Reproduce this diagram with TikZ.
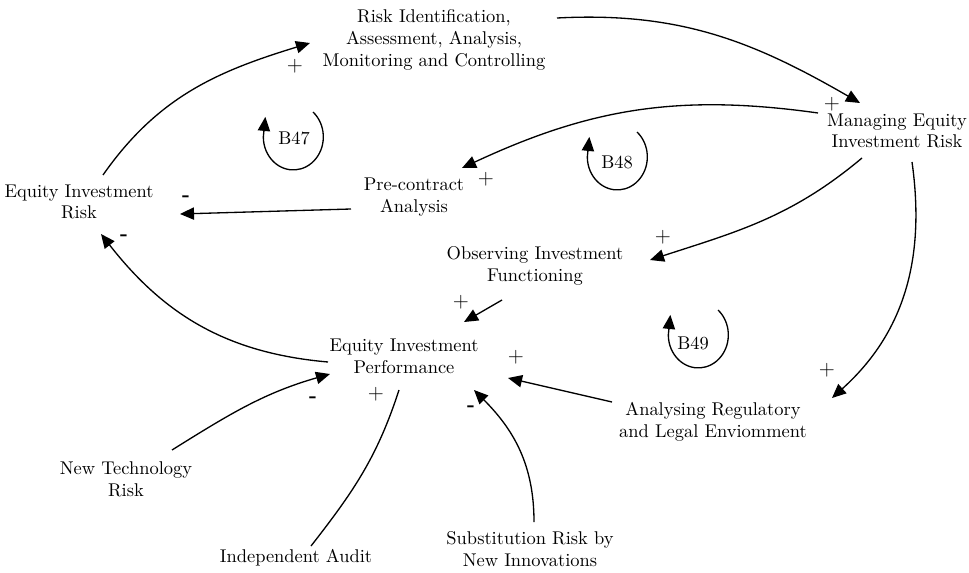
\documentclass[tikz,border=0pt]{standalone}
\usetikzlibrary{arrows.meta,calc}

\begin{document}
\begin{tikzpicture}[x=0.02cm,y=0.02cm]
        \tikzstyle{var}=[align=center, inner sep=0pt, font=\fontsize{10.5}{12.4}\selectfont]
        \tikzstyle{link}=[line width=0.75pt, -{Triangle[length=8pt,width=7pt]}]
        \tikzstyle{plain}=[line width=0.75pt]
        \tikzstyle{sign}=[inner sep=0pt, font=\large]
        \useasboundingbox (0,0) rectangle (969,572);
        % variables
        \node [var] (riskid) at (434,532) {Risk Identification,\\Assessment, Analysis,\\Monitoring and Controlling};
        \node [var] (manage) at (897,441) {Managing Equity\\Investment Risk};
        \node [var] (eqrisk) at (79,370) {Equity Investment\\Risk};
        \node [var] (precon) at (414,375) {Pre-contract\\Analysis};
        \node [var] (observe) at (535,306) {Observing Investment\\Functioning};
        \node [var] (perf) at (404,216) {Equity Investment\\Performance};
        \node [var] (analyse) at (713,150) {Analysing Regulatory\\and Legal Enviomment};
        \node [var] (newtech) at (126,93) {New Technology\\Risk};
        \node [var] (audit) at (296,14) {Independent Audit};
        \node [var] (subst) at (530,23) {Substitution Risk by\\New Innovations};
        % loops
        \foreach \nm/\lbl/\x/\y/\dx/\dy in {b47/B47/294/434/19/26, b48/B48/617/410/20/30, b49/B49/693/229/25/33}
        {
          \node [var] (\nm) at (\x,\y) {\lbl};
          \draw [link] ($(\nm)+(\dx,\dy)$) arc [start angle=49, end angle=-180, x radius=30, y radius=33] -- ++(2,20);
        }
        % links
        \draw [link] ($(eqrisk)+(24,27)$) to [out=55, in=197] ($(riskid)+(-124,-3)$);
        \draw [link] ($(riskid)+(123,22)$) to [out=3, in=150] ($(manage)+(-37,28)$);
        \draw [link] ($(manage)+(-79,18)$) to [out=172, in=25] ($(precon)+(48,29)$);
        \draw [link] ($(precon)+(-63,-12)$) -- ($(eqrisk)+(101,-12)$);
        \draw [link] ($(manage)+(-35,-27)$) to [out=220, in=18] ($(observe)+(115,6)$);
        \draw [link] ($(manage)+(15,-31)$) to [out=-82, in=42] ($(analyse)+(119,24)$);
        \draw [link] ($(observe)+(-33,-34)$) -- ($(perf)+(60,34)$);
        \draw [link] ($(perf)+(-76,-6)$) to [out=175, in=-52] ($(eqrisk)+(22,-32)$);
        \draw [link] ($(analyse)+(-101,20)$) -- ($(perf)+(104,-22)$);
        \draw [link] ($(newtech)+(46,29)$) to [out=32, in=196] ($(perf)+(-74,-18)$);
        \draw [plain] ($(audit)+(15,12)$) to [out=52, in=-108] ($(perf)+(-5,-34)$);
        \draw [link] ($(subst)+(4,27)$) to [out=90, in=-45] ($(perf)+(70,-34)$);
        % polarities
        \node [sign] (p1) at ($(riskid)+(-139,-26)$) {$+$};
        \node [sign] (p2) at ($(manage)+(-65,27)$) {$+$};
        \node [sign] (p3) at ($(precon)+(72,18)$) {$+$};
        \node [sign] (m1) at ($(eqrisk)+(107,3)$) {\bfseries -};
        \node [sign] (p4) at ($(observe)+(128,29)$) {$+$};
        \node [sign] (p5) at ($(analyse)+(114,52)$) {$+$};
        \node [sign] (p6) at ($(perf)+(57,54)$) {$+$};
        \node [sign] (m2) at ($(eqrisk)+(45,-36)$) {\bfseries -};
        \node [sign] (p7) at ($(perf)+(112,-1)$) {$+$};
        \node [sign] (m3) at ($(perf)+(-91,-44)$) {\bfseries -};
        \node [sign] (p8) at ($(perf)+(-28,-38)$) {$+$};
        \node [sign] (m4) at ($(perf)+(67,-53)$) {\bfseries -};
      \end{tikzpicture}
\end{document}
